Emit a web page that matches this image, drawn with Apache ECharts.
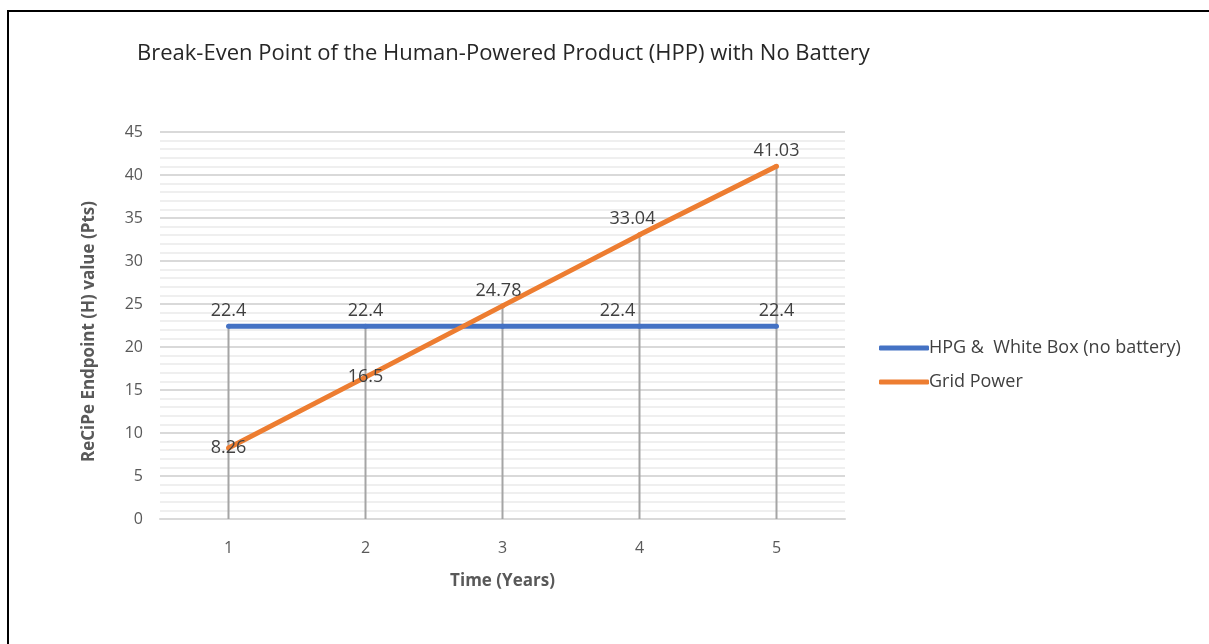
<!DOCTYPE html>
<html>
<head>
<meta charset="utf-8">
<script src="https://cdn.jsdelivr.net/npm/echarts@6/dist/echarts.min.js"></script>
<style>
  html, body { margin: 0; padding: 0; background: #fff; }
  #chart { width: 1209px; height: 644px; }
</style>
</head>
<body>
<div id="chart"></div>
<script>
// data
const years = ["1", "2", "3", "4", "5"];
const hpgValues = [22.4, 22.4, 22.4, 22.4, 22.4];
const gridValues = [8.26, 16.5, 24.78, 33.04, 41.03];
const seriesNames = ["HPG &  White Box (no battery)", "Grid Power"];

const chart = echarts.init(document.getElementById("chart"));

// drop lines go from the higher point down to the axis
const dropValues = years.map((y, i) => Math.max(hpgValues[i], gridValues[i]));

// per point label tweaks (Excel moved some of them)
const hpgLabels = [
  { position: "top" },
  { position: "top" },
  { show: false },
  { position: "top", offset: [-22, 0] },
  { position: "top" },
];
const gridLabels = [
  { position: "inside" },
  { position: "inside" },
  { position: "top", offset: [-4, 0] },
  { position: "top", offset: [-7, 0] },
  { position: "top" },
];

const labelStyle = {
  show: true,
  color: "#404040",
  fontSize: 18,
  fontFamily: "Open Sans",
  distance: 4,
};

const option = {
  backgroundColor: "#fff",
  animation: false,
  title: {
    text: "Break-Even Point of the Human-Powered Product (HPP) with No Battery",
    left: 132,
    top: 38,
    textStyle: {
      color: "#262626",
      fontSize: 22,
      fontWeight: "normal",
      fontFamily: "Open Sans",
    },
  },
  legend: {
    orient: "vertical",
    left: 874,
    top: 334,
    itemWidth: 50,
    itemHeight: 5,
    itemGap: 16,
    icon: "roundRect",
    data: seriesNames,
    textStyle: {
      color: "#404040",
      fontSize: 18,
      fontFamily: "Open Sans",
      padding: [0, 0, 0, -5],
    },
  },
  grid: {
    left: 160,
    right: 364,
    top: 132,
    bottom: 125,
  },
  xAxis: {
    type: "category",
    data: years,
    name: "Time (Years)",
    nameLocation: "middle",
    nameGap: 54,
    nameTextStyle: {
      color: "#595959",
      fontSize: 17,
      fontWeight: "bold",
      fontFamily: "Open Sans",
    },
    axisLine: { lineStyle: { color: "#d9d9d9", width: 2 } },
    axisTick: { show: false },
    axisLabel: {
      color: "#595959",
      fontSize: 16,
      fontFamily: "Open Sans",
      margin: 21,
    },
  },
  yAxis: {
    type: "value",
    min: 0,
    max: 45,
    interval: 5,
    name: "ReCiPe Endpoint (H) value (Pts)",
    nameLocation: "middle",
    nameGap: 62,
    nameTextStyle: {
      color: "#595959",
      fontSize: 17,
      fontWeight: "bold",
      fontFamily: "Open Sans",
      padding: [0, 0, 0, -12],
    },
    axisLine: { show: false },
    axisTick: { show: false },
    axisLabel: {
      color: "#595959",
      fontSize: 16,
      fontFamily: "Open Sans",
      margin: 17,
    },
    splitLine: { lineStyle: { color: "#d9d9d9", width: 2 } },
    minorTick: { show: false, splitNumber: 5 },
    minorSplitLine: { show: true, lineStyle: { color: "#efefef", width: 2 } },
  },
  series: [
    {
      name: "drop",
      type: "bar",
      data: dropValues,
      barWidth: 2,
      itemStyle: { color: "#a5a5a5" },
      z: 1,
      silent: true,
    },
    {
      name: seriesNames[0],
      type: "line",
      data: hpgValues.map((v, i) => ({
        value: v,
        label: Object.assign({}, labelStyle, hpgLabels[i]),
      })),
      symbol: "circle",
      symbolSize: 5,
      lineStyle: { color: "#4472C4", width: 5 },
      itemStyle: { color: "#4472C4" },
      z: 3,
    },
    {
      name: seriesNames[1],
      type: "line",
      data: gridValues.map((v, i) => ({
        value: v,
        label: Object.assign({}, labelStyle, gridLabels[i]),
      })),
      symbol: "circle",
      symbolSize: 5,
      lineStyle: { color: "#ED7D31", width: 5 },
      itemStyle: { color: "#ED7D31" },
      z: 4,
    },
  ],
  graphic: [
    // frame around the chart (only top and left edges are in the picture)
    {
      type: "polyline",
      shape: { points: [[8, 644], [8, 11], [1209, 11]] },
      style: { stroke: "#000", lineWidth: 2, fill: null },
      silent: true,
    },
  ],
};

chart.setOption(option);
</script>
</body>
</html>
